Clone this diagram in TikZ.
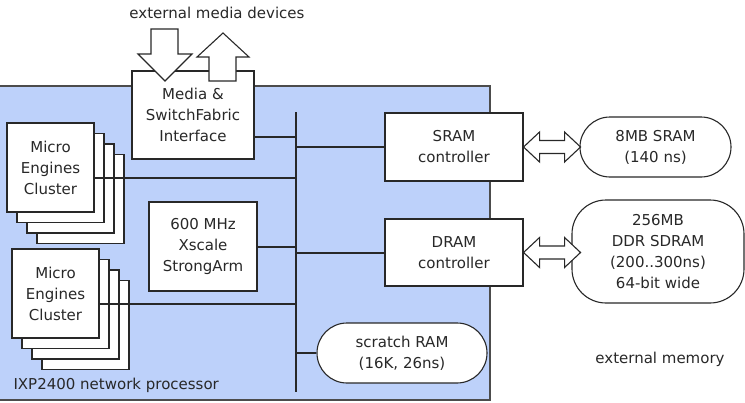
\documentclass[tikz,border=0pt]{standalone}
\usepackage{fontspec}
\setmainfont{DejaVu Sans}
\usetikzlibrary{calc}
\definecolor{chipblue}{RGB}{189,209,250}
\definecolor{inkgray}{RGB}{40,40,40}
\tikzset{
  block/.style={
    draw,
    fill=white,
    line width=1.1pt,
    inner sep=0pt,
    align=center
  },
  memory/.style={
    block,
    rounded corners=30pt
  },
  cluster/.style={
    block,
    minimum width=87pt,
    minimum height=89pt
  },
  link/.style={
    line width=2pt
  },
  bus/.style={
    line width=2.6pt
  },
  fatarrow/.style={
    draw,
    fill=white,
    line width=1.1pt,
    line join=miter
  }
}
\begin{document}
\begin{tikzpicture}[x=1pt,y=-1pt,font=\fontsize{15}{21}\selectfont,color=inkgray]
            \useasboundingbox (0,0) rectangle (745,402);
            \filldraw[fill=chipblue,draw=black!70,line width=1.3pt] (-5,86) rectangle (490,400);
            \node[block,minimum width=122pt,minimum height=88pt] (media) at (193,115) {Media \&\\SwitchFabric\\Interface};
            \draw[fatarrow] (151,29) -- (178,29) -- (178,54) -- (192,54) -- (165,81) -- (138,54) -- (151,54) -- cycle;
            \draw[fatarrow] (209,81) -- (236,81) -- (236,57) -- (249,57) -- (223,33) -- (197,57) -- (209,57) -- cycle;
            \node (extmedia) at (217,13) {external media devices};
            \foreach \k in {3,2,1}{
                    \node[cluster] (cluA-\k) at (50.5+10*\k,167.5+10.5*\k) {};
                    \node[cluster] (cluB-\k) at (55.5+10*\k,293.5+10.5*\k) {};
                }
            \node[cluster] (cluA) at (50.5,167.5) {Micro\\Engines\\Cluster};
            \node[cluster] (cluB) at (55.5,293.5) {Micro\\Engines\\Cluster};
            \node[block,minimum width=108pt,minimum height=89pt] (arm) at (203,246.5) {600 MHz\\Xscale\\StrongArm};
            \node[block,minimum width=138pt,minimum height=68pt] (sramc) at (454,147) {SRAM\\controller};
            \node[block,minimum width=138pt,minimum height=67pt] (dramc) at (454,252.5) {DRAM\\controller};
            \node[memory,minimum width=170pt,minimum height=60pt] (scratch) at (402,353) {scratch RAM\\(16K, 26ns)};
            \node[memory,minimum width=151pt,minimum height=60pt] (sram) at (655.5,147) {8MB SRAM\\(140 ns)};
            \node[memory,minimum width=172pt,minimum height=103pt,rounded corners=34pt] (ddr) at (658,251.5) {256MB\\DDR SDRAM\\(200..300ns)\\64-bit wide};
            \node (extmem) at (660,359) {external memory};
            \node[anchor=west] (chip) at (10,385) {IXP2400 network processor};
            \coordinate (bustop) at (296,112);
            \coordinate (busbot) at (296,392);
            \draw[bus] (bustop) -- (busbot);
            \draw[link] (media.east) ++(0,22) coordinate (mediaout) -- (mediaout -| bustop);
            \draw[link] (cluA.east) ++(0,10.5) coordinate (cluAout) -- (cluAout -| bustop);
            \draw[link] (cluB.east) ++(0,10.5) coordinate (cluBout) -- (cluBout -| bustop);
            \draw[link] (arm.east) -- (arm.east -| bustop);
            \draw[link] (sramc.west -| bustop) -- (sramc.west);
            \draw[link] (dramc.west -| bustop) -- (dramc.west);
            \draw[link] (scratch.west -| bustop) -- (scratch.west);
            \draw[fatarrow] (sramc.east) -- ++(16,-15) -- ++(0,8.5) -- ++(25,0) -- ++(0,-8.5) -- ++(16,15) -- ++(-16,15) -- ++(0,-8.5) -- ++(-25,0) -- ++(0,8.5) -- cycle;
            \draw[fatarrow] (dramc.east) -- ++(16,-15) -- ++(0,8.5) -- ++(25,0) -- ++(0,-8.5) -- ++(16,15) -- ++(-16,15) -- ++(0,-8.5) -- ++(-25,0) -- ++(0,8.5) -- cycle;
        \end{tikzpicture}
\end{document}
